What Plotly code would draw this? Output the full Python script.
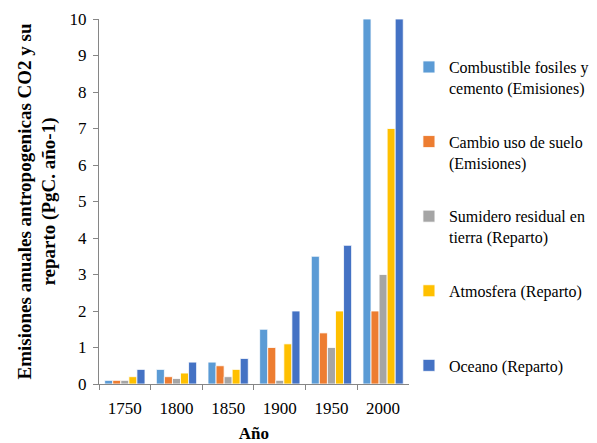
import plotly.graph_objects as go

years = ["1750", "1800", "1850", "1900", "1950", "2000"]
fosiles = [0.1, 0.4, 0.6, 1.5, 3.5, 10.0]
uso_suelo = [0.1, 0.2, 0.5, 1.0, 1.4, 2.0]
sumidero = [0.1, 0.15, 0.2, 0.1, 1.0, 3.0]
atmosfera = [0.2, 0.3, 0.4, 1.1, 2.0, 7.0]
oceano = [0.4, 0.6, 0.7, 2.0, 3.8, 10.0]

# single-line names get a blank second line so every legend entry has equal height
series = [
    ("Combustible fosiles y<br>cemento (Emisiones)", fosiles, "#5B9BD5"),
    ("Cambio uso de suelo<br>(Emisiones)", uso_suelo, "#ED7D31"),
    ("Sumidero residual en<br>tierra (Reparto)", sumidero, "#A5A5A5"),
    ("Atmosfera (Reparto)<br> ", atmosfera, "#FFC000"),
    ("Oceano (Reparto)<br> ", oceano, "#4472C4"),
]

fig = go.Figure()
for i, (name, vals, color) in enumerate(series):
    fig.add_trace(go.Bar(
        x=years, y=vals, name=name, legendgroup=f"g{i}",
        marker=dict(color=color, line=dict(color="white", width=0.8)),
    ))

font_family = "Times New Roman, Liberation Serif, serif"
fig.update_layout(
    width=597, height=443,
    margin=dict(l=99, r=183, t=19, b=59),
    paper_bgcolor="white", plot_bgcolor="white",
    barmode="group", bargap=0.22, bargroupgap=0,
    font=dict(family=font_family, color="black"),
    legend=dict(
        xref="container", yref="container",
        x=0.685, xanchor="left", y=0.887, yanchor="top",
        maxheight=1,
        font=dict(size=16, family=font_family),
        traceorder="grouped", tracegroupgap=30, valign="top",
        itemwidth=30, bgcolor="rgba(0,0,0,0)",
    ),
    xaxis=dict(
        type="category", tickson="boundaries", ticks="outside", ticklen=5,
        tickcolor="#868686", showline=True, linecolor="#868686", linewidth=1,
        tickfont=dict(size=17), showgrid=False, ticklabelstandoff=9,
        automargin=False,
        title=dict(text="<b>Año</b>", font=dict(size=17), standoff=13),
    ),
    yaxis=dict(
        range=[0, 10], dtick=1, ticks="outside", ticklen=5,
        tickcolor="#868686", showline=True, linecolor="#868686", linewidth=1,
        tickfont=dict(size=17), showgrid=False, zeroline=False, ticklabelstandoff=3,
        automargin=False,
        title=dict(text="<b>Emisiones anuales antropogenicas CO2 y su<br>reparto (PgC. año-1)</b>",
                   font=dict(size=19), standoff=8),
    ),
)

fig.write_html("out.html")
